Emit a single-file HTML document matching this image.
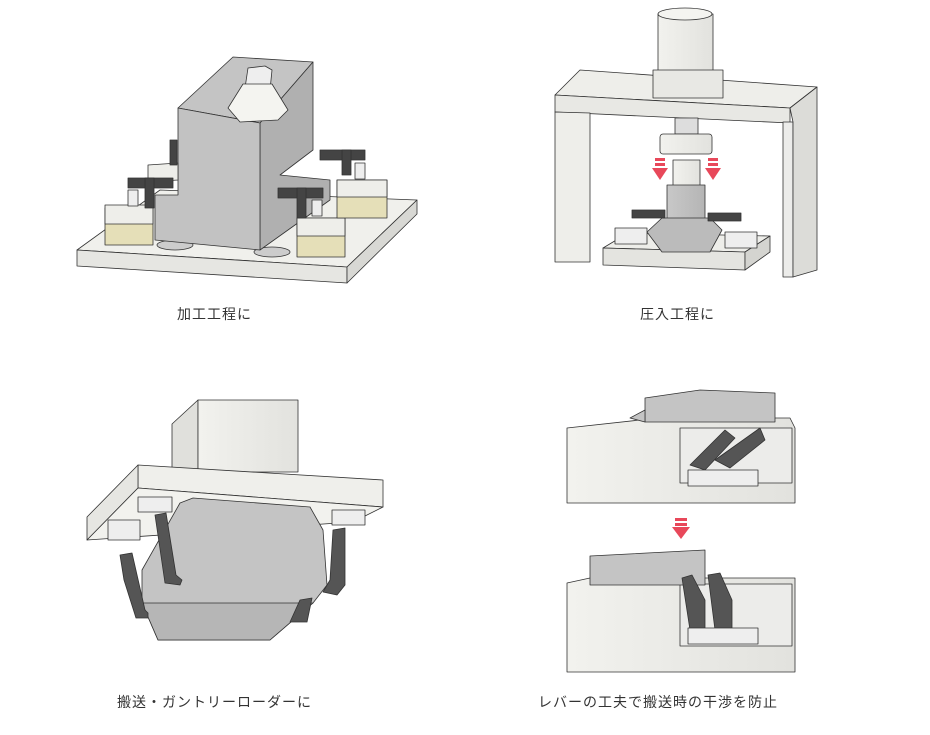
<!DOCTYPE html>
<html><head><meta charset="utf-8"><style>
body{margin:0;background:#fff;width:930px;height:735px;overflow:hidden}
.t{position:absolute;font-family:"Liberation Sans","Noto Sans CJK JP",sans-serif;font-size:14px;color:#333;letter-spacing:1px}
svg{position:absolute;left:0;top:0}
</style></head><body>
<svg width="930" height="735" viewBox="0 0 930 735" stroke="#333" stroke-width="0.8" stroke-linejoin="round">
<defs>
<linearGradient id="w" x1="0" x2="1"><stop offset="0" stop-color="#f2f2ee"/><stop offset="1" stop-color="#e2e2de"/></linearGradient>
<linearGradient id="g" x1="0" x2="1"><stop offset="0" stop-color="#c8c8c8"/><stop offset="1" stop-color="#b5b5b5"/></linearGradient>
</defs>
<!-- Panel 1 -->
<polygon points="77,250 160,190 417,200 347,267" fill="#f0f0ec"/>
<polygon points="77,250 347,267 347,283 77,266" fill="#e6e6e2"/>
<polygon points="347,267 417,200 417,214 347,283" fill="#d8d8d4"/>
<ellipse cx="175" cy="245" rx="18" ry="5" fill="#ccc"/>
<ellipse cx="272" cy="252" rx="18" ry="5" fill="#ccc"/>
<polygon points="178,108 233,57 313,62 260,123" fill="#c4c4c4"/>
<polygon points="260,123 313,62 313,150 280,175 330,180 330,200 260,250" fill="#b0b0b0"/>
<polygon points="178,108 260,123 260,250 155,240 155,195 178,195" fill="#c2c2c2"/>
<polygon points="245,88 248,68 265,66 272,70 270,90" fill="#eee"/>
<polygon points="228,108 243,84 272,84 288,110 278,120 240,122" fill="#f4f4f0"/>
<polygon points="105,208 153,206 153,245 105,245" fill="#e5dfb8"/>
<polygon points="105,205 153,205 153,224 105,224" fill="#eeeeea"/>
<polygon points="297,218 345,218 345,257 297,257" fill="#e5dfb8"/>
<polygon points="297,218 345,218 345,236 297,236" fill="#eeeeea"/>
<polygon points="337,180 387,180 387,218 337,218" fill="#e5dfb8"/>
<polygon points="337,180 387,180 387,197 337,197" fill="#eeeeea"/>
<polygon points="148,165 178,163 178,180 148,182" fill="#eeeeea"/>
<rect x="128" y="178" width="45" height="10" fill="#444"/>
<rect x="145" y="178" width="9" height="30" fill="#444"/>
<rect x="128" y="190" width="10" height="16" fill="#eee"/>
<rect x="278" y="188" width="45" height="10" fill="#444"/>
<rect x="297" y="188" width="9" height="30" fill="#444"/>
<rect x="312" y="200" width="10" height="16" fill="#eee"/>
<rect x="320" y="150" width="45" height="10" fill="#444"/>
<rect x="342" y="150" width="9" height="25" fill="#444"/>
<rect x="355" y="163" width="10" height="16" fill="#eee"/>
<rect x="170" y="140" width="7" height="25" fill="#444"/>
<!-- Panel 2 -->
<polygon points="555,95 580,70 817,87 790,108" fill="#eeeeea"/>
<polygon points="555,95 790,108 790,123 555,112" fill="#e8e8e4"/>
<polygon points="555,112 590,113 590,262 555,262" fill="#eeeeea"/>
<polygon points="783,122 793,122 793,277 783,277" fill="#ececea"/>
<polygon points="790,108 817,87 817,270 793,277 793,122" fill="#dcdcd8"/>
<rect x="658" y="14" width="55" height="60" fill="url(#w)"/>
<ellipse cx="685" cy="14" rx="27" ry="6" fill="#f4f4f0"/>
<rect x="653" y="70" width="70" height="28" fill="#e8e8e4"/>
<rect x="675" y="118" width="23" height="16" fill="#ddd"/>
<rect x="660" y="134" width="52" height="20" rx="3" fill="url(#w)"/>
<rect x="673" y="160" width="27" height="27" fill="url(#w)"/>
<rect x="667" y="185" width="38" height="38" fill="url(#g)"/>
<polygon points="603,248 628,233 770,236 745,252" fill="#eeeeea"/>
<polygon points="603,248 745,252 745,270 603,265" fill="#e4e4e0"/>
<polygon points="745,252 770,236 770,252 745,270" fill="#d4d4d0"/>
<polygon points="647,232 662,218 710,218 722,230 710,252 662,252" fill="#bbb"/>
<rect x="615" y="228" width="32" height="16" fill="#eee"/>
<rect x="725" y="232" width="32" height="16" fill="#eee"/>
<rect x="632" y="210" width="33" height="8" fill="#444"/>
<rect x="708" y="213" width="33" height="8" fill="#444"/>
<g fill="#e8485a" stroke="none">
<rect x="655" y="158" width="10" height="3"/><rect x="655" y="163" width="10" height="3"/><polygon points="652,168 668,168 660,180"/>
<rect x="708" y="158" width="10" height="3"/><rect x="708" y="163" width="10" height="3"/><polygon points="705,168 721,168 713,180"/>
</g>
<!-- Panel 3 -->
<polygon points="172,424 198,400 198,470 172,468" fill="#e0e0dc"/>
<rect x="198" y="400" width="100" height="72" fill="url(#w)"/>
<polygon points="138,465 383,480 383,507 138,488" fill="#efefeb"/>
<polygon points="87,517 138,465 138,488 87,540" fill="#e6e6e2"/>
<polygon points="87,540 138,488 383,507 353,522" fill="#f2f2ee"/>
<polygon points="193,498 310,507 323,530 327,585 313,603 270,640 158,640 142,603 142,570 180,503" fill="#c4c4c4"/>
<polygon points="142,603 158,640 270,640 313,603" fill="#b6b6b6"/>
<polygon points="108,520 140,520 140,540 108,540" fill="#eee"/>
<polygon points="138,497 172,497 172,512 138,512" fill="#eee"/>
<polygon points="332,510 365,510 365,525 332,525" fill="#eee"/>
<polygon points="120,555 132,553 145,610 148,613 148,618 136,618 124,580" fill="#555"/>
<polygon points="155,515 166,513 176,575 182,580 180,585 165,583" fill="#555"/>
<polygon points="333,530 345,528 345,585 337,595 323,592 330,580" fill="#555"/>
<polygon points="300,600 312,598 307,622 290,622" fill="#555"/>
<!-- Panel 4 top -->
<polygon points="567,428 658,418 790,418 795,428 795,503 567,503" fill="url(#w)"/>
<rect x="680" y="428" width="112" height="55" fill="#ececea"/>
<polygon points="645,398 700,390 775,393 775,422 645,422" fill="#c4c4c4"/>
<polygon points="630,418 645,410 645,422" fill="#c4c4c4"/>
<polygon points="690,465 725,430 735,438 705,470" fill="#555"/>
<polygon points="715,460 760,428 765,440 730,468" fill="#555"/>
<rect x="688" y="470" width="70" height="16" fill="#eee"/>
<g fill="#e8485a" stroke="none"><rect x="675" y="518" width="12" height="3"/><rect x="675" y="523" width="12" height="3"/><polygon points="672,527 690,527 681,539"/></g>
<!-- Panel 4 bottom -->
<polygon points="567,583 590,578 795,578 795,672 567,672" fill="url(#w)"/>
<rect x="680" y="584" width="112" height="62" fill="#ececea"/>
<polygon points="590,556 705,550 705,585 590,585" fill="#c4c4c4"/>
<polygon points="682,578 692,575 705,600 705,630 690,630" fill="#555"/>
<polygon points="708,575 720,573 732,600 732,630 715,630" fill="#555"/>
<rect x="688" y="628" width="70" height="16" fill="#eee"/>
</svg>
<div class="t" style="left:177px;top:304px">加工工程に</div>
<div class="t" style="left:640px;top:304px">圧入工程に</div>
<div class="t" style="left:117px;top:692px">搬送・ガントリーローダーに</div>
<div class="t" style="left:538px;top:692px">レバーの工夫で搬送時の干渉を防止</div>
</body></html>
